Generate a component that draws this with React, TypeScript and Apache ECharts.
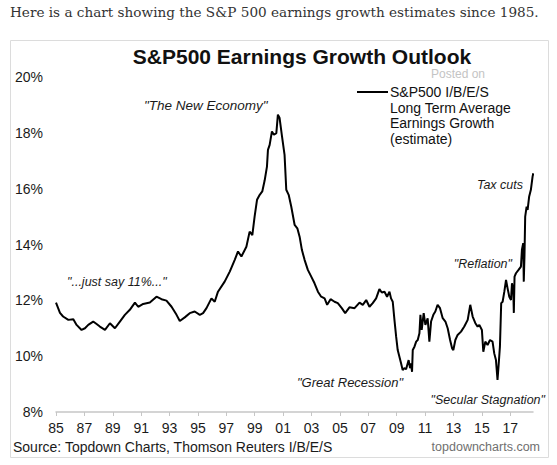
import React, { useEffect, useRef } from "react";
import * as echarts from "echarts";

// Years since 1985 (x) and S&P500 I/B/E/S long-term growth estimate in % (y)
const yearsSince1985 = [
  0.0, 0.28, 0.5, 0.87, 1.22, 1.45, 1.8, 2.04, 2.27, 2.62, 2.86, 3.09, 3.45, 3.8, 4.15, 4.5, 4.85, 5.2, 5.56, 5.79,
  6.14, 6.61, 7.08, 7.43, 7.78, 8.14, 8.49, 8.72, 9.07, 9.42, 9.77, 10.13, 10.36, 10.6, 10.95, 11.18, 11.41, 11.88,
  12.24, 12.59, 12.82, 13.06, 13.41, 13.64, 13.83, 13.99, 14.16, 14.35, 14.53, 14.7, 14.86, 14.93, 15.05, 15.21,
  15.35, 15.52, 15.63, 15.75, 15.92, 16.1, 16.22, 16.39, 16.57, 16.81, 17.0, 17.16, 17.32, 17.51, 17.74, 17.98,
  18.21, 18.45, 18.68, 18.92, 19.1, 19.34, 19.62, 19.85, 20.13, 20.37, 20.67, 21.03, 21.38, 21.61, 21.85, 22.08,
  22.31, 22.55, 22.78, 22.95, 23.14, 23.32, 23.49, 23.6, 23.72, 23.84, 23.96, 24.07, 24.19, 24.31, 24.42, 24.54,
  24.66, 24.84, 24.94, 25.01, 25.08, 25.13, 25.25, 25.37, 25.48, 25.6, 25.67, 25.76, 25.9, 26.02, 26.18, 26.3,
  26.42, 26.58, 26.72, 26.88, 27.05, 27.24, 27.43, 27.59, 27.76, 27.9, 27.99, 28.13, 28.29, 28.53, 28.76, 29.0,
  29.18, 29.35, 29.54, 29.7, 29.82, 30.0, 30.1, 30.24, 30.4, 30.57, 30.75, 30.87, 30.99, 31.1, 31.17, 31.27, 31.36,
  31.46, 31.58, 31.7, 31.81, 31.93, 32.05, 32.12, 32.21, 32.25, 32.3, 32.4, 32.58, 32.75, 32.82, 32.91, 32.95,
  33.0, 33.05, 33.15, 33.22, 33.33, 33.45, 33.57, 33.62,
];
const growthEstimate = [
  11.92, 11.55, 11.42, 11.3, 11.32, 11.12, 10.94, 11.0, 11.12, 11.24, 11.15, 11.06, 10.94, 11.18, 11.0, 11.24, 11.48,
  11.66, 11.92, 11.77, 11.87, 11.92, 12.13, 12.04, 11.99, 11.77, 11.48, 11.26, 11.39, 11.54, 11.6, 11.48, 11.54,
  11.72, 12.07, 11.95, 12.31, 12.67, 13.03, 13.45, 13.75, 13.57, 13.92, 14.46, 14.34, 15.0, 15.6, 15.78, 15.9, 16.3,
  16.79, 17.39, 17.57, 18.05, 17.93, 17.99, 18.65, 18.53, 17.87, 17.21, 15.96, 15.78, 15.36, 14.7, 14.58, 14.28,
  13.81, 13.45, 13.09, 12.85, 12.61, 12.31, 12.13, 12.07, 11.84, 12.04, 11.95, 11.9, 11.72, 11.54, 11.75, 11.72,
  11.92, 11.84, 12.01, 11.77, 11.9, 12.07, 12.4, 12.28, 12.31, 12.13, 12.31, 12.07, 11.95, 11.3, 10.7, 10.22, 9.98,
  9.74, 9.5, 9.57, 9.53, 9.86, 9.57, 9.74, 9.44, 10.22, 10.34, 10.52, 10.58, 10.82, 11.48, 10.94, 11.54, 11.12,
  11.36, 10.52, 11.24, 11.48, 11.6, 11.84, 11.72, 11.36, 11.24, 11.0, 10.58, 10.28, 10.22, 10.58, 10.76, 10.88,
  11.06, 11.3, 11.84, 11.42, 11.18, 11.06, 11.12, 10.94, 10.16, 10.52, 10.4, 10.58, 10.52, 10.1, 9.86, 9.15, 9.62,
  10.34, 11.9, 11.95, 12.31, 12.73, 12.43, 12.13, 12.01, 12.61, 12.37, 11.55, 12.85, 12.97, 13.09, 13.21, 13.81,
  14.05, 12.67, 13.6, 15.0, 15.36, 15.24, 15.72, 15.96, 16.43, 16.55,
];

const startYear = 1985;
const yTicks = { min: 8, max: 20, step: 2 };
const xTicks = { min: 0, max: 33.6, step: 2 };

const headerText = "Here is a chart showing the S&P 500 earnings growth estimates since 1985.";
const chartTitle = "S&P500 Earnings Growth Outlook";
const legendLines = ["S&P500 I/B/E/S", "Long Term Average", "Earnings Growth", "(estimate)"];
const sourceText = "Source: Topdown Charts, Thomson Reuters I/B/E/S";
const siteText = "topdowncharts.com";
const watermarkText = "Posted on";

const SANS = "'Liberation Sans', Arial, sans-serif";

export default function App() {
  const ref = useRef<HTMLDivElement>(null);

  useEffect(() => {
    if (!ref.current) return;
    const chart = echarts.init(ref.current, null, { renderer: "svg" });
    const seriesData = yearsSince1985.map((t, i) => [t, growthEstimate[i]]);

    const txt = (
      text: string,
      x: number,
      y: number,
      size: number,
      opts: { align?: string; italic?: boolean; bold?: boolean; color?: string; family?: string } = {}
    ) => ({
      type: "text",
      silent: true,
      style: {
        text,
        x,
        y,
        fill: opts.color || "#1a1a1a",
        fontSize: size,
        fontFamily: opts.family || SANS,
        fontStyle: opts.italic ? "italic" : "normal",
        fontWeight: opts.bold ? "bold" : "normal",
        textAlign: opts.align || "left",
        textVerticalAlign: "middle",
      },
    });

    chart.setOption({
      animation: false,
      backgroundColor: "#ffffff",
      grid: { left: 56, right: 24, top: 77, bottom: 53, containLabel: false },
      xAxis: {
        type: "value",
        min: xTicks.min,
        max: xTicks.max,
        interval: xTicks.step,
        axisLine: { show: true, lineStyle: { color: "#c6c6c6", width: 1.5 } },
        axisTick: { show: true, length: 4, lineStyle: { color: "#c6c6c6" } },
        splitLine: { show: false },
        axisLabel: {
          showMaxLabel: false,
          margin: 9,
          color: "#1a1a1a",
          fontSize: 14,
          fontFamily: SANS,
          formatter: (v: number) => String((startYear + Math.round(v)) % 100).padStart(2, "0"),
        },
      },
      yAxis: {
        type: "value",
        min: yTicks.min,
        max: yTicks.max,
        interval: yTicks.step,
        axisLine: { show: false },
        axisTick: { show: false },
        splitLine: { show: false },
        axisLabel: {
          margin: 13,
          color: "#1a1a1a",
          fontSize: 14,
          fontFamily: SANS,
          formatter: "{value}%",
        },
      },
      series: [
        {
          type: "line",
          name: "S&P500 I/B/E/S Long Term Average Earnings Growth (estimate)",
          data: seriesData,
          showSymbol: false,
          symbol: "none",
          lineStyle: { color: "#000000", width: 2 },
          z: 5,
        },
      ],
      graphic: [
        {
          type: "rect",
          silent: true,
          z: -10,
          shape: { x: 10.5, y: 40.5, width: 538, height: 417 },
          style: { fill: "#ffffff", stroke: "#dcdcdc", lineWidth: 1 },
        },
        txt(headerText, 10, 12, 13.6, { color: "#333333", family: "'DejaVu Serif', Georgia, serif" }),
        txt(chartTitle, 302, 56, 21, { align: "center", bold: true, color: "#111111" }),
        // watermark
        txt(watermarkText, 458, 74, 12, { align: "center", color: "#c4c4c4" }),
        // legend
        {
          type: "line",
          silent: true,
          shape: { x1: 357, y1: 92, x2: 388, y2: 92 },
          style: { stroke: "#000000", lineWidth: 2 },
        },
        ...legendLines.map((l, i) => txt(l, 390, 92 + i * 15.6, 14, { color: "#111111" })),
        // annotations
        txt('"The New Economy"', 144, 105, 13.5, { italic: true }),
        txt('"...just say 11%..."', 67, 282, 12.5, { italic: true }),
        txt('"Great Recession"', 297, 382, 13, { italic: true }),
        txt('"Secular Stagnation"', 545, 400, 12.5, { italic: true, align: "right" }),
        txt('"Reflation"', 512, 264, 12.5, { italic: true, align: "right" }),
        txt("Tax cuts", 523, 185, 12.5, { italic: true, align: "right" }),
        // footer
        txt(sourceText, 13, 447, 14, { color: "#1a1a1a" }),
        txt(siteText, 540, 447, 12.5, { align: "right", color: "#707070" }),
      ],
    });

    return () => chart.dispose();
  }, []);

  return (
    <div
      ref={ref}
      style={{ position: "absolute", left: 0, top: 0, width: 557, height: 465, background: "#ffffff" }}
    />
  );
}
